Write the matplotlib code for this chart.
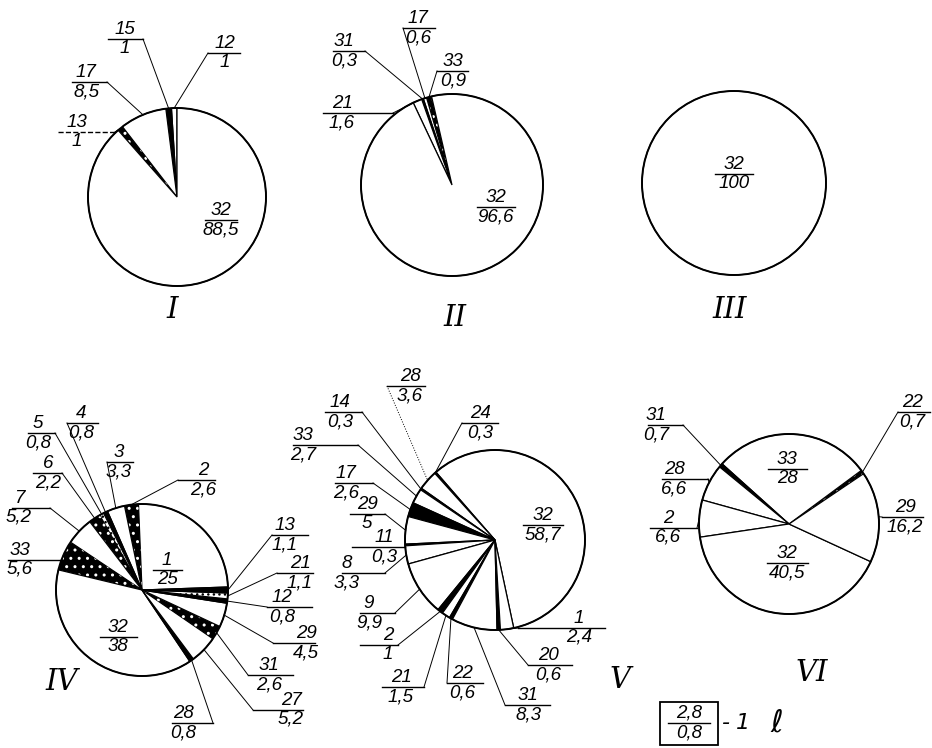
import matplotlib.pyplot as plt
import numpy as np
from matplotlib.patches import Circle, Rectangle

W, H = 932, 748

# Shares (%) per pie, listed counterclockwise from the start angle.
# fills: w = white, b = black, s = dark stipple, l = light stipple
I_NAMES = ["12", "15", "17", "13", "32"]
I_SHARES = [1, 1, 8.5, 1, 88.5]
I_FILLS = ["w", "b", "w", "s", "w"]

II_NAMES = ["33", "17", "31", "21", "32"]
II_SHARES = [0.9, 0.6, 0.3, 1.6, 96.6]
II_FILLS = ["s", "w", "b", "w", "w"]

III_NAMES = ["32"]
III_SHARES = [100]
III_FILLS = ["w"]

IV_NAMES = ["1", "2", "3", "4", "5", "6", "7", "33", "32", "28", "27", "31", "29", "12", "21", "13"]
IV_SHARES = [25, 2.6, 3.3, 0.8, 0.8, 2.2, 5.2, 5.6, 38, 0.8, 5.2, 2.6, 4.5, 0.8, 1.1, 1.1]
IV_FILLS = ["w", "s", "w", "b", "l", "s", "w", "s", "w", "b", "w", "s", "w", "b", "l", "b"]

V_NAMES = ["32", "24", "28", "14", "33", "17", "29", "11", "8", "9", "2", "21", "22", "31", "20", "1"]
V_SHARES = [58.7, 0.3, 3.6, 0.3, 2.7, 2.6, 5, 0.3, 3.3, 9.9, 1, 1.5, 0.6, 8.3, 0.6, 2.4]
V_FILLS = ["w", "b", "w", "b", "w", "b", "w", "b", "w", "w", "b", "w", "b", "w", "b", "w"]

VI_NAMES = ["22", "33", "31", "28", "2", "32", "29"]
VI_SHARES = [0.7, 28, 0.7, 6.6, 6.6, 40.5, 16.2]
VI_FILLS = ["s", "w", "b", "w", "w", "w", "w"]

LEGEND_TOP = "2,8"
LEGEND_BOTTOM = "0,8"
LEGEND_NOTE = ["-", "1", "ℓ"]

# layout, image pixels (y down): label -> (bar x0, bar x1, bar y, text x, leader side)
I_LAYOUT = {
    "12": (208, 240, 53, 225, "l"),
    "15": (108, 143, 39, 125, "r"),
    "17": (72, 107, 82, 86, "r"),
    "13": (58, 115, 132, 77, "r"),
    "32": (205, 237, 220, 221, None),
}
II_LAYOUT = {
    "31": (333, 365, 51, 344, "r"),
    "17": (403, 435, 28, 418, "l"),
    "33": (437, 468, 71, 453, "l"),
    "21": (323, 393, 113, 342, "r"),
    "32": (477, 515, 207, 496, None),
}
III_LAYOUT = {"32": (715, 753, 174, 734, None)}
IV_LAYOUT = {
    "4": (67, 98, 423, 81, "l"),
    "5": (28, 55, 433, 38, "r"),
    "6": (33, 62, 473, 48, "r"),
    "3": (107, 133, 462, 119, "l"),
    "2": (178, 215, 480, 203, "l"),
    "7": (12, 50, 508, 19, "r"),
    "33": (8, 62, 560, 20, "r"),
    "13": (272, 308, 535, 285, "l"),
    "21": (277, 313, 573, 300, "l"),
    "12": (267, 312, 607, 282, "l"),
    "29": (273, 315, 643, 306, "l"),
    "31": (248, 293, 675, 269, "l"),
    "27": (253, 303, 710, 291, "l"),
    "28": (172, 213, 723, 183, "r"),
    "1": (153, 182, 570, 167, None),
    "32": (100, 137, 637, 118, None),
}
V_LAYOUT = {
    "28": (387, 425, 386, 410, "l"),
    "24": (462, 498, 423, 480, "l"),
    "14": (325, 362, 412, 340, "r"),
    "33": (293, 358, 445, 303, "r"),
    "17": (335, 373, 483, 346, "r"),
    "29": (350, 385, 514, 367, "r"),
    "11": (352, 405, 547, 384, "r"),
    "8": (342, 385, 573, 347, "r"),
    "9": (360, 395, 613, 369, "r"),
    "2": (360, 398, 645, 388, "r"),
    "21": (382, 424, 687, 401, "r"),
    "22": (447, 483, 683, 462, "l"),
    "31": (505, 550, 705, 528, "l"),
    "20": (528, 572, 665, 548, "l"),
    "1": (518, 605, 628, 579, "l"),
    "32": (523, 563, 525, 543, None),
}
VI_LAYOUT = {
    "31": (648, 683, 425, 656, "r"),
    "22": (898, 930, 412, 912, "l"),
    "28": (662, 708, 479, 674, "r"),
    "2": (650, 697, 528, 668, "r"),
    "29": (882, 923, 517, 905, "l"),
    "33": (768, 807, 469, 787, None),
    "32": (767, 808, 563, 787, None),
}

# labels drawn with a dashed bar / dotted leader in the original
DASHED = {("I", "13"), ("V", "28")}

TXT = dict(family="Liberation Sans", style="italic", fontsize=13.5, color="black")
ROMAN = dict(family="DejaVu Serif", style="italic", fontsize=21, color="black")


def fmt(v):
    return f"{v:g}".replace(".", ",")


def fraction(ax, top, bottom, x0, x1, y, tx, ls="-"):
    ax.plot([x0, x1], [H - y, H - y], color="black", lw=1.0, ls=ls, zorder=5)
    ax.text(tx, H - y + 1, top, ha="center", va="bottom", zorder=6, **TXT)
    ax.text(tx, H - y - 1, bottom, ha="center", va="top", zorder=6, **TXT)


def draw_pie(ax, tag, names, shares, fills, start, center, radius, layout):
    cx, cy = center[0], H - center[1]
    wedges, _ = ax.pie(
        shares,
        startangle=start,
        counterclock=True,
        center=(cx, cy),
        radius=radius,
        colors=["white"] * len(shares),
        wedgeprops=dict(linewidth=0.9, edgecolor="black"),
        frame=False,
    )
    for w, f in zip(wedges, fills):
        if f == "b":
            w.set_facecolor("black")
        elif f == "s":
            w.set_facecolor("black")
            w.set_edgecolor("white")
            w.set_hatch("..")
            w.set_linewidth(0)
        elif f == "l":
            w.set_facecolor("white")
            w.set_hatch("...")
    ax.add_patch(Circle((cx, cy), radius, fill=False, ec="black", lw=1.4, zorder=4))

    for w, name, val in zip(wedges, names, shares):
        x0, x1, y, tx, side = layout[name]
        dashed = (tag, name) in DASHED
        fraction(ax, name, fmt(val), x0, x1, y, tx, ls="--" if tag == "I" and dashed else "-")
        if side is None:
            continue
        mid = np.deg2rad((w.theta1 + w.theta2) / 2)
        px = cx + radius * np.cos(mid)
        py = cy + radius * np.sin(mid)
        sx = x0 if side == "l" else x1
        ax.plot([sx, px], [H - y, py], color="black", lw=0.7,
                ls=":" if tag == "V" and dashed else "-", zorder=5)


fig = plt.figure(figsize=(W / 100, H / 100), dpi=100)
ax = fig.add_axes([0, 0, 1, 1])

draw_pie(ax, "I", I_NAMES, I_SHARES, I_FILLS, 90, (177, 197), 89, I_LAYOUT)
draw_pie(ax, "II", II_NAMES, II_SHARES, II_FILLS, 103, (452, 185), 91, II_LAYOUT)
draw_pie(ax, "III", III_NAMES, III_SHARES, III_FILLS, 90, (734, 183), 92, III_LAYOUT)
draw_pie(ax, "IV", IV_NAMES, IV_SHARES, IV_FILLS, 2, (142, 590), 86, IV_LAYOUT)
draw_pie(ax, "V", V_NAMES, V_SHARES, V_FILLS, -78, (495, 540), 90, V_LAYOUT)
draw_pie(ax, "VI", VI_NAMES, VI_SHARES, VI_FILLS, 34, (789, 524), 90, VI_LAYOUT)

for numeral, (x, y) in zip(["I", "II", "III", "IV", "V", "VI"],
                           [(172, 310), (455, 318), (730, 310), (62, 682), (620, 680), (812, 673)]):
    ax.text(x, H - y, numeral, ha="center", va="center", **ROMAN)

# legend box
ax.add_patch(Rectangle((660, H - 745), 58, 43, fill=False, ec="black", lw=1.3))
fraction(ax, LEGEND_TOP, LEGEND_BOTTOM, 668, 710, 723, 689)
for s, x in zip(LEGEND_NOTE, [726, 743, 777]):
    ax.text(x, H - 723, s, ha="center", va="center", family="DejaVu Sans",
            style="italic", fontsize=16 if s != "ℓ" else 22)

ax.set_xlim(0, W)
ax.set_ylim(0, H)
ax.set_aspect("equal")
ax.axis("off")
fig.savefig("out.png", dpi=100, facecolor="white")
